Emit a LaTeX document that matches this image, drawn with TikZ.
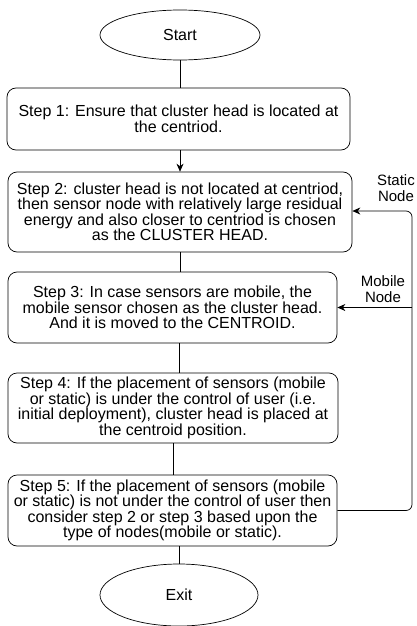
\documentclass[tikz,border=0pt]{standalone}
\usepackage{fontspec}
\setmainfont{Liberation Sans}
\usetikzlibrary{shapes.geometric, arrows.meta}

\begin{document}
\begin{tikzpicture}[x=1pt, y=-1pt, >={Stealth[length=8pt, width=7pt]},
    terminal/.style={draw, ellipse, line width=0.7pt, inner sep=0pt},
    stepbox/.style={draw, rounded corners=9pt, line width=0.7pt, align=center,
        inner sep=0pt, font=\fontsize{16}{15.5}\selectfont},
    link/.style={line width=0.7pt}]
    \useasboundingbox (0,0) rectangle (416,626);

    \node[terminal, minimum width=160, minimum height=50, font=\fontsize{16}{16}\selectfont] (start) at (180,35) {Start};

    \node[stepbox, minimum width=343, minimum height=62] (s1) at (178.5,119)
        {Step 1: Ensure that cluster head is located at\\the centriod.};
    \node[stepbox, minimum width=344, minimum height=80] (s2) at (180,212)
        {Step 2: cluster head is not located at centriod,\\then sensor node with relatively large residual\\energy and also closer to centriod is chosen\\as the CLUSTER HEAD.};
    \node[stepbox, minimum width=329, minimum height=71] (s3) at (172.5,307.5)
        {Step 3: In case sensors are mobile, the\\mobile sensor chosen as the cluster head.\\And it is moved to the CENTROID.};
    \node[stepbox, minimum width=330, minimum height=70] (s4) at (173,408)
        {Step 4: If the placement of sensors (mobile\\or static) is under the control of user (i.e.\\initial deployment), cluster head is placed at\\the centroid position.};
    \node[stepbox, minimum width=329, minimum height=71] (s5) at (172.5,510.5)
        {Step 5: If the placement of sensors (mobile\\or static) is not under the control of user then\\consider step 2 or step 3 based upon the\\type of nodes(mobile or static).};

    \node[terminal, minimum width=158, minimum height=62, font=\fontsize{16}{16}\selectfont] (exit) at (179,595) {Exit};

    \draw[link] (start.south) -- (start.south |- s1.north);
    \draw[link, ->] (start.south |- s1.south) -- (start.south |- s2.north);
    \draw[link] (start.south |- s2.south) -- (start.south |- s3.north);
    \draw[link] (179,343) coordinate (c3) -- (c3 |- s4.north);
    \draw[link] (173,443) coordinate (c4) -- (c4 |- s5.north);
    \draw[link] (exit.north |- s5.south) -- (exit.north);

    % feedback from step 5
    \coordinate (back) at (412,211);
    \draw[link, ->, rounded corners=6pt] (s5.east) -| (back) -- (back -| s2.east);
    \draw[link, ->] (back |- s3.east) -- (s3.east);

    \node[align=center, font=\fontsize{15}{16}\selectfont] (static) at (396,188) {Static\\Node};
    \node[align=center, font=\fontsize{15}{16}\selectfont] (mobile) at (383,289) {Mobile\\Node};
\end{tikzpicture}
\end{document}
